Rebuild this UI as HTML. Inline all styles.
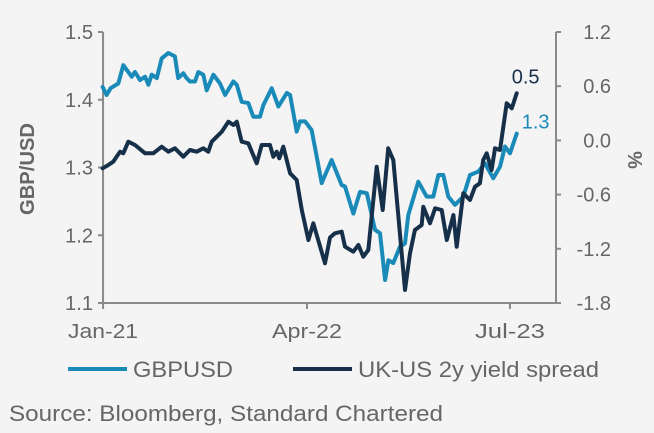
<!DOCTYPE html>
<html><head><meta charset="utf-8"><style>
html,body{margin:0;padding:0;background:#f4f4f4;}
svg{display:block;font-family:"Liberation Sans Narrow","Liberation Sans",Arial,sans-serif;}
</style></head><body>
<svg id="chart" width="654" height="433" viewBox="0 0 654 433">
<rect x="0" y="0" width="654" height="433" fill="#f4f4f4"/>
<g id="axes"></g>
<g id="series"></g>
<text x="34" y="169" transform="rotate(-90 34 169)" text-anchor="middle" font-size="20" font-weight="bold" fill="#666" textLength="92" lengthAdjust="spacingAndGlyphs">GBP/USD</text>
<text x="628" y="160" transform="rotate(90 628 160)" text-anchor="middle" font-size="20" font-weight="bold" fill="#666">%</text>
<g>
<line x1="68" y1="369" x2="127" y2="369" stroke="#1a8bb9" stroke-width="4"/>
<text x="133" y="377" font-size="22" fill="#666" textLength="100" lengthAdjust="spacingAndGlyphs">GBPUSD</text>
<line x1="293" y1="369" x2="352" y2="369" stroke="#17304a" stroke-width="4"/>
<text x="358" y="377" font-size="22" fill="#666" textLength="241" lengthAdjust="spacingAndGlyphs">UK-US 2y yield spread</text>
</g>
<text x="9" y="421" font-size="22" fill="#666" textLength="434" lengthAdjust="spacingAndGlyphs">Source:  Bloomberg, Standard Chartered</text>
</svg>
<script>
const gbpT=[0.41,0.70,0.99,1.55,1.91,2.52,2.76,3.12,3.49,3.73,3.97,4.34,4.70,5.18,5.66,5.90,6.27,6.51,6.75,7.12,7.36,7.72,7.97,8.45,8.93,9.30,9.90,10.15,10.51,10.99,11.35,11.84,12.08,12.69,13.17,13.78,14.02,14.50,14.74,15.11,15.59,16.32,17.04,17.77,18.01,18.61,19.10,19.59,20.19,20.55,20.92,21.16,21.52,22.00,22.37,22.61,23.33,23.94,24.42,24.79,25.15,25.51,26.00,26.60,27.09,27.69,28.18,28.78,29.27,29.63,29.99,30.48];
const gbpV=[1.419,1.407,1.417,1.424,1.451,1.434,1.441,1.429,1.434,1.422,1.437,1.432,1.461,1.469,1.464,1.432,1.439,1.432,1.427,1.427,1.441,1.437,1.414,1.437,1.424,1.407,1.427,1.422,1.397,1.395,1.375,1.375,1.392,1.417,1.390,1.410,1.407,1.353,1.368,1.368,1.355,1.277,1.311,1.274,1.272,1.232,1.264,1.262,1.208,1.203,1.134,1.163,1.159,1.183,1.188,1.230,1.279,1.257,1.257,1.289,1.289,1.257,1.245,1.257,1.289,1.294,1.306,1.284,1.301,1.331,1.321,1.350];
const sprT=[0.41,0.82,1.18,1.67,1.91,2.27,2.76,3.49,4.09,4.70,5.18,5.66,6.27,6.75,7.24,7.72,8.08,8.33,9.06,9.54,9.90,10.15,10.51,10.99,11.60,11.96,12.56,12.80,13.05,13.24,13.53,14.02,14.50,14.87,15.35,15.71,16.56,16.92,17.28,17.77,18.01,18.61,18.98,19.34,19.70,20.31,20.75,21.15,21.52,22.37,22.73,23.09,23.58,23.70,24.18,24.55,25.03,25.40,25.88,26.12,26.60,27.09,27.45,27.81,28.05,28.30,28.66,28.90,29.27,29.75,30.12,30.48];
const sprV=[-0.309,-0.272,-0.236,-0.125,-0.143,-0.014,-0.051,-0.143,-0.143,-0.070,-0.125,-0.088,-0.180,-0.106,-0.125,-0.088,-0.125,-0.014,0.096,0.207,0.170,0.207,-0.014,-0.032,-0.254,-0.051,-0.051,-0.180,-0.125,-0.198,-0.070,-0.364,-0.438,-0.771,-1.103,-0.918,-1.361,-1.075,-1.028,-1.011,-1.177,-1.232,-1.158,-1.288,-1.213,-0.291,-0.771,-0.088,-0.217,-1.656,-1.250,-0.992,-0.937,-0.734,-0.918,-0.752,-0.771,-1.103,-0.826,-1.177,-0.586,-0.660,-0.513,-0.475,-0.217,-0.143,-0.328,-0.088,-0.106,0.411,0.355,0.521];
const leftTicks=[1.1,1.2,1.3,1.4,1.5];
const leftTickLabels=["1.1","1.2","1.3","1.4","1.5"];
const rightTicks=[-1.8,-1.2,-0.6,0.0,0.6,1.2];
const rightTickLabels=["-1.8","-1.2","-0.6","0.0","0.6","1.2"];
const xTicks=[0.44,15.25,29.99];
const xTickLabels=["Jan-21","Apr-22","Jul-23"];
const gbpEndLabel="1.3";
const sprEndLabel="0.5";

const NS="http://www.w3.org/2000/svg";
const xS=t=>97+t*13.77;
const yL=v=>303-(v-1.1)*677.5;
const yR=v=>32+(1.2-v)*90.33;
const AX="#8a8a8a", TXT="#666";
function mk(tag,attrs,parent){const e=document.createElementNS(NS,tag);for(const k in attrs)e.setAttribute(k,attrs[k]);parent.appendChild(e);return e;}
const axes=document.getElementById('axes');
const series=document.getElementById('series');
const X0=xS(0.44), X1=556, YB=yL(1.1), YT=yL(1.5);
let e;
e=mk('line',{x1:X0,y1:YT,x2:X0,y2:YB,stroke:AX,'stroke-width':2},axes);


e=mk('line',{x1:X1,y1:YT,x2:X1,y2:YB,stroke:AX,'stroke-width':2},axes);


e=mk('line',{x1:X0-4,y1:YB,x2:X1+4,y2:YB,stroke:AX,'stroke-width':2},axes);


leftTicks.forEach((v,i)=>{
  const y=yL(v);
  e=mk('line',{x1:X0-5,y1:y,x2:X0,y2:y,stroke:AX,'stroke-width':2},axes);
  
  
  e=mk('text',{x:X0-24,y:y+7,'text-anchor':'middle','font-size':20,fill:TXT,textLength:28,lengthAdjust:'spacingAndGlyphs'},axes);
  e.textContent=leftTickLabels[i];
  
  
});
rightTicks.forEach((v,i)=>{
  const y=yR(v);
  e=mk('line',{x1:X1,y1:y,x2:X1+5,y2:y,stroke:AX,'stroke-width':2},axes);
  
  
  e=mk('text',{x:611,y:y+7,'text-anchor':'end','font-size':20,fill:TXT},axes);
  e.textContent=rightTickLabels[i];
  
  
});
xTicks.forEach((t,i)=>{
  const x=xS(t);
  e=mk('line',{x1:x,y1:YB,x2:x,y2:YB+6,stroke:AX,'stroke-width':2},axes);
  
  
  e=mk('text',{x:x,y:YB+35,'text-anchor':'middle','font-size':20,fill:TXT,textLength:70,lengthAdjust:'spacingAndGlyphs'},axes);
  e.textContent=xTickLabels[i];
  
  
});
function pts(T,V,yf){return T.map((t,i)=>xS(t).toFixed(1)+','+yf(V[i]).toFixed(1)).join(' ');}
e=mk('polyline',{points:pts(gbpT,gbpV,yL),fill:'none',stroke:'#1a8bb9','stroke-width':4,'stroke-linejoin':'round','stroke-linecap':'round'},series);


e=mk('polyline',{points:pts(sprT,sprV,yR),fill:'none',stroke:'#17304a','stroke-width':4,'stroke-linejoin':'round','stroke-linecap':'round'},series);


const gl=gbpT.length-1, sl=sprT.length-1;
e=mk('text',{x:xS(gbpT[gl])+5,y:yL(gbpV[gl])-5,'font-size':20,fill:'#1a8bb9'},series);
e.textContent=gbpEndLabel;


e=mk('text',{x:xS(sprT[sl])-5,y:yR(sprV[sl])-10,'font-size':20,fill:'#17304a'},series);
e.textContent=sprEndLabel;


</script>
</body></html>
